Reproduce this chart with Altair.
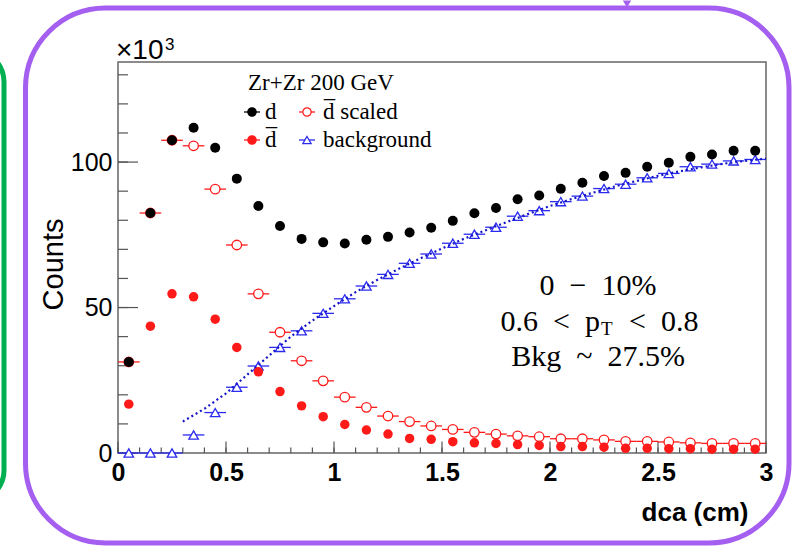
import altair as alt
import pandas as pd

# dca bin centres (cm); counts are in units of 10^3
dca = [0.05, 0.15, 0.25, 0.35, 0.45, 0.55, 0.65, 0.75, 0.85, 0.95,
       1.05, 1.15, 1.25, 1.35, 1.45, 1.55, 1.65, 1.75, 1.85, 1.95,
       2.05, 2.15, 2.25, 2.35, 2.45, 2.55, 2.65, 2.75, 2.85, 2.95]
bin_half_width = 0.05

d_counts = [31.3, 82.5, 107.5, 111.8, 104.9, 94.3, 84.9, 78.0, 73.6, 72.4,
            72.0, 73.3, 74.3, 75.8, 77.4, 79.8, 82.4, 84.2, 87.2, 88.5,
            90.8, 92.9, 95.2, 96.3, 98.4, 99.8, 101.8, 102.6, 103.9, 103.9]
dbar_counts = [16.8, 43.6, 54.7, 53.7, 46.0, 36.3, 27.9, 21.1, 16.2, 12.5,
               9.8, 7.9, 6.5, 5.0, 4.7, 3.9, 3.5, 3.3, 2.9, 2.6,
               2.2, 2.2, 2.0, 1.6, 1.6, 1.5, 1.5, 1.3, 1.3, 1.3]
dbar_scaled = [31.3, 82.5, 107.5, 105.6, 90.7, 71.5, 54.7, 41.5, 31.7, 24.8,
               19.2, 15.7, 12.7, 10.8, 9.3, 8.1, 7.1, 6.5, 5.9, 5.6,
               4.9, 4.9, 4.5, 4.0, 4.0, 3.8, 3.5, 3.3, 3.3, 3.3]
background = [0.0, 0.0, 0.0, 6.2, 13.9, 22.6, 29.9, 36.3, 42.0, 48.0,
              53.0, 57.4, 61.4, 65.2, 68.4, 72.1, 75.2, 77.6, 81.4, 83.3,
              86.4, 88.3, 90.9, 92.4, 94.6, 96.1, 98.4, 99.3, 100.4, 100.9]

# background fit curve
fit_dca = [0.3, 0.4, 0.5, 0.6, 0.7, 0.8, 0.9, 1.0, 1.1, 1.2, 1.3, 1.4, 1.5, 1.6,
           1.7, 1.8, 1.9, 2.0, 2.1, 2.2, 2.3, 2.4, 2.5, 2.6, 2.7, 2.8, 2.9, 3.0]
fit_counts = [10.8, 15.2, 20.5, 27.0, 33.5, 40.0, 45.5, 50.5, 55.3, 59.5, 63.3, 66.9,
              70.3, 73.6, 76.5, 79.4, 82.2, 84.9, 87.3, 89.5, 91.6, 93.5, 95.3, 96.8,
              98.2, 99.4, 100.4, 101.2]

x_major = [0, 0.5, 1, 1.5, 2, 2.5, 3]
x_minor = [round(0.1 * i, 1) for i in range(31)]
y_major = [0, 50, 100]
y_minor = [10 * i for i in range(14)]

legend_title = "Zr+Zr 200 GeV"
legend_labels = ["d", "d\u0305 scaled", "d\u0305", "background"]

# math-style spacing around operators
SP = "\u2002"
info_centrality = f"0{SP}\u2212{SP}10%"
info_pt = [f"0.6{SP}<{SP}p", "T", f"<{SP}0.8"]
info_bkg = f"Bkg{SP}~{SP}27.5%"

# layout (pixels)
W, H = 648, 391
LEFT, TOP = 118, 62
TOTAL_W, TOTAL_H = 795, 548

RED = "#ff1a1a"
BLUE = "#2a2af0"
FIT_BLUE = "#1414c8"
PURPLE = "#a45ef0"
GREEN = "#00b050"
SANS = "Liberation Sans"
SERIF = "Liberation Serif"

hist = pd.DataFrame({"dca": dca, "d": d_counts, "dbar": dbar_counts,
                     "dbar_scaled": dbar_scaled, "bkg": background})
hist["lo"] = hist["dca"] - bin_half_width
hist["hi"] = hist["dca"] + bin_half_width
fit = pd.DataFrame({"dca": fit_dca, "counts": fit_counts})

xs = alt.Scale(domain=[0, 3], nice=False, zero=False)
ys = alt.Scale(domain=[0, 134.4], nice=False, zero=False)

x_axis = alt.Axis(values=x_major, format="~g", grid=False, domain=False, ticks=False,
                  labelFont=SANS, labelFontWeight="bold", labelFontSize=25,
                  labelColor="black", labelPadding=7, labelFlush=False, labelOverlap=False,
                  title="dca (cm)", titleFont=SANS, titleFontWeight="bold",
                  titleFontSize=26, titleColor="black", titleAnchor="end",
                  titleAlign="right", titleBaseline="alphabetic",
                  titleX=630, titleY=67)
y_axis = alt.Axis(values=y_major, grid=False, domain=False, ticks=False,
                  labelFont=SANS, labelFontSize=25, labelColor="black",
                  labelPadding=6, labelFlush=False, labelOverlap=False,
                  title="Counts", titleFont=SANS, titleFontWeight="normal",
                  titleFontSize=29, titleColor="black", titleAngle=-90,
                  titleAlign="center", titleBaseline="middle",
                  titleX=53 - LEFT, titleY=264 - TOP)


def X(field):
    return alt.X(field, type="quantitative", scale=xs, axis=x_axis)


def Y(field):
    return alt.Y(field, type="quantitative", scale=ys, axis=y_axis)


def one_row(text=""):
    return pd.DataFrame({"t": [text]})


def label(text, px, py, size, font=SERIF, align="left", baseline="middle"):
    return (alt.Chart(one_row(text))
            .mark_text(align=align, baseline=baseline, font=font, fontSize=size, color="black")
            .encode(x=alt.value(px - LEFT), y=alt.value(py - TOP), text="t:N"))


layers = []

# inward ticks on the x axis
layers.append(alt.Chart(pd.DataFrame({"v": x_minor})).mark_rule(color="#555", strokeWidth=1.2)
              .encode(x=X("v"), y=alt.value(H), y2=alt.value(H - 5.5)))
layers.append(alt.Chart(pd.DataFrame({"v": x_major})).mark_rule(color="#555", strokeWidth=1.2)
              .encode(x=X("v"), y=alt.value(H), y2=alt.value(H - 11.5)))
# inward ticks on the y axis
layers.append(alt.Chart(pd.DataFrame({"v": y_minor})).mark_rule(color="#555", strokeWidth=1.2)
              .encode(y=Y("v"), x=alt.value(0), x2=alt.value(10)))
layers.append(alt.Chart(pd.DataFrame({"v": y_major})).mark_rule(color="#555", strokeWidth=1.2)
              .encode(y=Y("v"), x=alt.value(0), x2=alt.value(20)))

# anti-deuteron (scaled): bin-width bars + open circles
layers.append(alt.Chart(hist).mark_rule(color=RED, strokeWidth=1.3)
              .encode(x=X("lo"), x2=alt.X2("hi"), y=Y("dbar_scaled")))
layers.append(alt.Chart(hist).mark_point(shape="circle", size=90, filled=True, fill="white",
                                         stroke=RED, strokeWidth=1.3, opacity=1)
              .encode(x=X("dca"), y=Y("dbar_scaled")))

# background template: bars + open triangles
layers.append(alt.Chart(hist).mark_rule(color=BLUE, strokeWidth=1.3)
              .encode(x=X("lo"), x2=alt.X2("hi"), y=Y("bkg")))
layers.append(alt.Chart(hist).mark_point(shape="triangle-up", size=90, filled=True, fill="white",
                                         stroke=BLUE, strokeWidth=1.3, opacity=1)
              .encode(x=X("dca"), y=Y("bkg")))

# background fit
layers.append(alt.Chart(fit).mark_line(color=FIT_BLUE, strokeWidth=2.2, strokeDash=[2, 3])
              .encode(x=X("dca"), y=Y("counts")))

# anti-deuteron and deuteron
layers.append(alt.Chart(hist).mark_circle(size=90, color=RED, opacity=1)
              .encode(x=X("dca"), y=Y("dbar")))
layers.append(alt.Chart(hist).mark_circle(size=100, color="black", opacity=1)
              .encode(x=X("dca"), y=Y("d")))

# legend
layers.append(label(legend_title, 248, 83, 23))
legend_style = [
    dict(shape="circle", fill="black", stroke="black", color="black"),
    dict(shape="circle", fill="white", stroke=RED, color=RED),
    dict(shape="circle", fill=RED, stroke=RED, color=RED),
    dict(shape="triangle-up", fill="white", stroke=BLUE, color=BLUE),
]
marker_x = [252, 307]
label_x = [265, 323]
row_y = [112, 140]
for i, (text, st) in enumerate(zip(legend_labels, legend_style)):
    col, row = i % 2, i // 2
    mx, ty = marker_x[col], row_y[row]
    layers.append(alt.Chart(one_row(text)).mark_rule(color=st["color"], strokeWidth=1.3)
                  .encode(x=alt.value(mx - 8 - LEFT), x2=alt.value(mx + 8 - LEFT),
                          y=alt.value(ty - TOP)))
    layers.append(alt.Chart(one_row(text))
                  .mark_point(shape=st["shape"], size=70, filled=True, fill=st["fill"],
                              stroke=st["stroke"], strokeWidth=1.2, opacity=1)
                  .encode(x=alt.value(mx - LEFT), y=alt.value(ty - TOP)))
    layers.append(label(text, label_x[col], ty, 23))

# centrality / pT / background fraction annotation
layers.append(label(info_centrality, 598, 286, 30, align="center"))
layers.append(label(info_pt[0], 600, 322, 30, align="right"))
layers.append(label(info_pt[1], 601, 329, 19))
layers.append(label(info_pt[2], 629, 322, 30))
layers.append(label(info_bkg, 598, 357, 30, align="center"))

# axis multiplier
layers.append(label("\u00d710", 116, 59, 28, font=SANS, baseline="alphabetic"))
layers.append(label("3", 165, 50, 17, font=SANS, baseline="alphabetic"))

# slide frames
layers.append(alt.Chart(one_row()).mark_rect(fillOpacity=0, stroke=GREEN, strokeWidth=5,
                                             cornerRadius=32)
              .encode(x=alt.value(-70 - LEFT), x2=alt.value(4 - LEFT),
                      y=alt.value(50 - TOP), y2=alt.value(502 - TOP)))
layers.append(alt.Chart(one_row()).mark_rect(fillOpacity=0, stroke=PURPLE, strokeWidth=5,
                                             cornerRadius=80)
              .encode(x=alt.value(25.5 - LEFT), x2=alt.value(789 - LEFT),
                      y=alt.value(8 - TOP), y2=alt.value(543 - TOP)))
layers.append(alt.Chart(one_row()).mark_point(shape="triangle-down", filled=True, color=PURPLE,
                                              size=70, opacity=1)
              .encode(x=alt.value(627 - LEFT), y=alt.value(4 - TOP)))

chart = (
    alt.layer(*layers)
    .properties(
        width=W, height=H,
        padding={"left": LEFT, "top": TOP, "right": TOTAL_W - LEFT - W,
                 "bottom": TOTAL_H - TOP - H},
        autosize=alt.AutoSizeParams(type="none"),
        background="white",
    )
    .configure_view(stroke="#666666", strokeWidth=1.5)
)

chart.save("out.html", embed_options={"renderer": "svg", "actions": False})
